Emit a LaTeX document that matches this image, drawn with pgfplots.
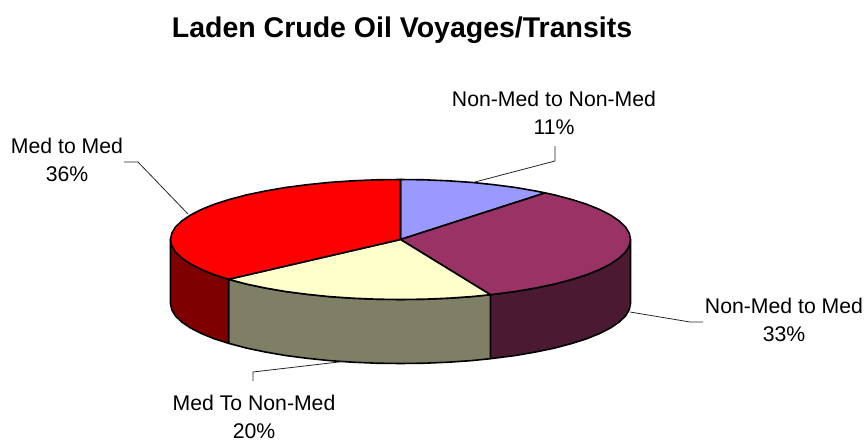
\documentclass[border=0pt]{standalone}
\usepackage{fontspec}
\setmainfont{Liberation Sans}
\usepackage{pgfplots}
\pgfplotsset{compat=1.18}
\definecolor{sliceA}{HTML}{9999FF}
\definecolor{sliceB}{HTML}{993366}
\definecolor{sliceC}{HTML}{FFFFCC}
\definecolor{sliceD}{HTML}{FF0000}
\definecolor{wallB}{HTML}{4C1933}
\definecolor{wallC}{HTML}{7F7F66}
\definecolor{wallD}{HTML}{7F0000}
\newcommand{\lab}{\fontsize{21.3}{28.6}\selectfont}
\tikzset{
  slice/.style={draw=black, line width=1.6bp, line join=round, mark=none},
  leader/.style={draw=black!85, line width=0.8bp, mark=none},
  lbl/.style={align=center, font=\lab, inner sep=0pt},
}
\begin{document}
\begin{tikzpicture}
\begin{axis}[
  scale only axis, width=864bp, height=441bp,
  xmin=0, xmax=864, ymin=0, ymax=441, y dir=reverse,
  hide axis, clip=false,
]
% keep the page at the full 864x441 frame
\path (axis cs:0,0) rectangle (axis cs:864,441);
% side walls, pixel positions of the 3-D pie outline
\addplot[slice, fill=wallB] coordinates {
  (630.5,239.5) (629.2,245.8) (625.5,252.0) (619.2,258.0) (610.6,263.9) (599.7,269.5) (586.6,274.8)
  (571.4,279.6) (554.4,284.1) (535.7,288.0) (515.5,291.5) (490.4,294.7)
  (490.4,358.7) (515.5,355.5) (535.7,352.0) (554.4,348.1) (571.4,343.6) (586.6,338.8) (599.7,333.5)
  (610.6,327.9) (619.2,322.0) (625.5,316.0) (629.2,309.8) (630.5,303.5) (630.5,239.5)};
\addplot[slice, fill=wallC] coordinates {
  (490.4,294.7) (471.6,296.6) (448.3,298.2) (424.5,299.2) (400.5,299.5) (376.5,299.2) (352.7,298.2)
  (329.4,296.6) (307.0,294.3) (285.5,291.5) (265.3,288.0) (246.6,284.1) (228.5,279.3)
  (228.5,343.3) (246.6,348.1) (265.3,352.0) (285.5,355.5) (307.0,358.3) (329.4,360.6) (352.7,362.2)
  (376.5,363.2) (400.5,363.5) (424.5,363.2) (448.3,362.2) (471.6,360.6) (490.4,358.7) (490.4,294.7)};
\addplot[slice, fill=wallD] coordinates {
  (228.5,279.3) (214.4,274.8) (201.3,269.5) (190.4,263.9) (181.8,258.0) (175.5,252.0) (171.8,245.8) (170.5,239.5)
  (170.5,303.5) (171.8,309.8) (175.5,316.0) (181.8,322.0) (190.4,327.9) (201.3,333.5) (214.4,338.8) (228.5,343.3) (228.5,279.3)};
% top slices
\addplot[slice, fill=sliceA] coordinates {
  (400.5,239.5) (400.5,179.5) (424.5,179.8) (448.3,180.8) (471.6,182.4) (494.0,184.7) (515.5,187.5) (535.7,191.0) (545.2,192.9) (400.5,239.5)};
\addplot[slice, fill=sliceB] coordinates {
  (400.5,239.5) (545.2,192.9) (554.4,194.9) (571.4,199.4) (586.6,204.2) (599.7,209.5) (610.6,215.1) (619.2,221.0)
  (625.5,227.0) (629.2,233.2) (630.5,239.5) (629.2,245.8) (625.5,252.0) (619.2,258.0) (610.6,263.9) (599.7,269.5)
  (586.6,274.8) (571.4,279.6) (554.4,284.1) (535.7,288.0) (515.5,291.5) (490.4,294.7) (400.5,239.5)};
\addplot[slice, fill=sliceC] coordinates {
  (400.5,239.5) (490.4,294.7) (471.6,296.6) (448.3,298.2) (424.5,299.2) (400.5,299.5) (376.5,299.2) (352.7,298.2)
  (329.4,296.6) (307.0,294.3) (285.5,291.5) (265.3,288.0) (246.6,284.1) (228.5,279.3) (400.5,239.5)};
\addplot[slice, fill=sliceD] coordinates {
  (400.5,239.5) (228.5,279.3) (214.4,274.8) (201.3,269.5) (190.4,263.9) (181.8,258.0) (175.5,252.0) (171.8,245.8)
  (170.5,239.5) (171.8,233.2) (175.5,227.0) (181.8,221.0) (190.4,215.1) (201.3,209.5) (214.4,204.2) (229.6,199.4)
  (246.6,194.9) (265.3,191.0) (285.5,187.5) (307.0,184.7) (329.4,182.4) (352.7,180.8) (376.5,179.8) (400.5,179.5) (400.5,239.5)};
% leader lines
\addplot[leader] coordinates {(555,146) (555,161) (473,182.5)};
\addplot[leader] coordinates {(124,162) (138,162) (188,214)};
\addplot[leader] coordinates {(630,312) (690,322) (703,322)};
\addplot[leader] coordinates {(343,361.5) (253,372) (253,381)};
% text
\node[font=\bfseries\fontsize{28.6}{32}\selectfont, inner sep=0pt] at (axis cs:402,30) {Laden Crude Oil Voyages/Transits};
\node[lbl] at (axis cs:554,113) {Non-Med to Non-Med\\11\%};
\node[lbl] at (axis cs:67,160) {Med to Med\\36\%};
\node[lbl] at (axis cs:784,320) {Non-Med to Med\\33\%};
\node[lbl] at (axis cs:254,417) {Med To Non-Med\\20\%};
\end{axis}
\end{tikzpicture}
\end{document}
